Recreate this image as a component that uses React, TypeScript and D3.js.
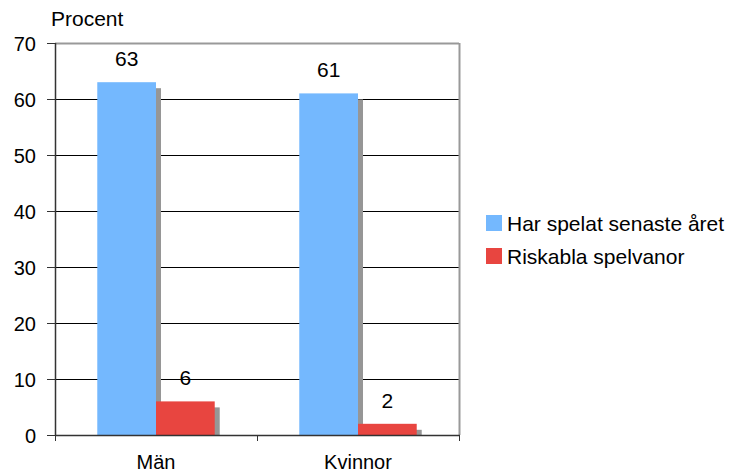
import React from "react";
import * as d3 from "d3";

const categories = ["Män", "Kvinnor"];
const seriesNames = ["Har spelat senaste året", "Riskabla spelvanor"];
const played = [63, 61];
const risky = [6, 2];
const yTicks = [0, 10, 20, 30, 40, 50, 60, 70];
const colors = ["#74B8FE", "#E84540"];

export default function App() {
  const W = 733, H = 474;
  const left = 55, right = 459, top = 43, bottom = 435;
  const x = d3.scaleBand<string>().domain(categories).range([left, right]).paddingInner(0).paddingOuter(0);
  const y = d3.scaleLinear().domain([0, 70]).range([bottom, top]);
  const inner = d3.scaleBand<number>().domain([0, 1]).range([0, x.bandwidth()]).paddingOuter(0.72).paddingInner(0);
  const series = [played, risky];
  const font = "Liberation Sans, Arial, sans-serif";
  return (
    <svg width={W} height={H} style={{ position: "absolute", left: 0, top: 0, background: "#fff" }} fontFamily={font}>
      {yTicks.map((t) => (
        <g key={t}>
          {t > 0 && t < 70 && <line x1={left} x2={right} y1={y(t) + 0.5} y2={y(t) + 0.5} stroke="#000" strokeWidth={1} />}
          <line x1={left - 8} x2={left} y1={y(t) + 0.5} y2={y(t) + 0.5} stroke="#333" />
          <text x={36} y={y(t) + 7.5} textAnchor="end" fontSize={20} fill="#000">{t}</text>
        </g>
      ))}
      <line x1={left} x2={right} y1={top + 0.5} y2={top + 0.5} stroke="#999" strokeWidth={2} />
      <line x1={right + 0.5} x2={right + 0.5} y1={top} y2={bottom} stroke="#999" strokeWidth={2} />
      {categories.map((c, ci) =>
        series.map((s, si) => {
          const bx = (x(c) as number) + (inner(si) as number);
          const bw = inner.bandwidth();
          const by = y(s[ci]);
          return (
            <g key={c + si}>
              <rect x={bx + 5} y={by + 6} width={bw} height={bottom - by - 6} fill="#969696" />
              <rect x={bx} y={by} width={bw} height={bottom - by} fill={colors[si]} />
              <text x={bx + bw / 2} y={by - 16} textAnchor="middle" fontSize={21} fill="#000">{s[ci]}</text>
            </g>
          );
        })
      )}
      <line x1={left + 0.5} x2={left + 0.5} y1={top} y2={bottom + 1} stroke="#333" strokeWidth={1.5} />
      <line x1={left} x2={right + 1} y1={bottom + 0.5} y2={bottom + 0.5} stroke="#333" strokeWidth={1.5} />
      {[left, ...categories.map((c) => (x(c) as number) + x.bandwidth())].map((tx, i) => (
        <line key={i} x1={tx + 0.5} x2={tx + 0.5} y1={bottom} y2={bottom + 6} stroke="#333" />
      ))}
      {categories.map((c) => (
        <text key={c} x={(x(c) as number) + x.bandwidth() / 2} y={469} textAnchor="middle" fontSize={20} fill="#000">{c}</text>
      ))}
      <text x={51} y={26} fontSize={21} fill="#000">Procent</text>
      {seriesNames.map((n, i) => (
        <g key={n}>
          <rect x={486} y={215 + i * 33} width={16} height={16} fill={colors[i]} />
          <text x={507} y={231 + i * 33} fontSize={21} fill="#000">{n}</text>
        </g>
      ))}
    </svg>
  );
}
